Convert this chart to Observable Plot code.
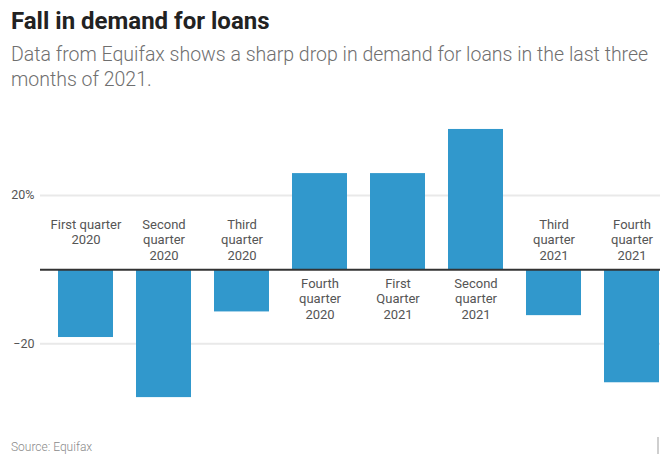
<!DOCTYPE html>
<html>
<head>
<meta charset="utf-8">
<script src="https://cdn.jsdelivr.net/npm/d3@7"></script>
<script src="https://cdn.jsdelivr.net/npm/@observablehq/plot@0.6"></script>
<style>
  html, body { margin: 0; padding: 0; background: #fff; }
  body { width: 660px; height: 457px; overflow: hidden; position: relative; font-family: Roboto, sans-serif; }
  #title { position: absolute; left: 11px; top: 6px; font-size: 24px; font-weight: 700; color: #222; line-height: 30px; white-space: nowrap; }
  #subtitle { position: absolute; left: 11px; top: 42px; font-size: 19.5px; font-weight: 300; color: #6f6f6f; line-height: 25px; width: 645px; }
  #chart { position: absolute; left: 0; top: 110px; }
  #source { position: absolute; left: 11px; top: 440px; font-size: 12px; color: #8a8a8a; font-weight: 300; }
  #mark { position: absolute; left: 657px; top: 437px; width: 2px; height: 17px; background: #cfcfcf; }
</style>
</head>
<body>
<div id="title">Fall in demand for loans</div>
<div id="subtitle">Data from Equifax shows a sharp drop in demand for loans in the last three months of 2021.</div>
<div id="chart"></div>
<div id="source">Source: Equifax</div>
<div id="mark"></div>
<script>
const categories = [
  "First quarter 2020", "Second quarter 2020", "Third quarter 2020", "Fourth quarter 2020",
  "First Quarter 2021", "Second quarter 2021", "Third quarter 2021", "Fourth quarter 2021"
];
const labels = [
  "First quarter\n2020", "Second\nquarter\n2020", "Third\nquarter\n2020", "Fourth\nquarter\n2020",
  "First\nQuarter\n2021", "Second\nquarter\n2021", "Third\nquarter\n2021", "Fourth\nquarter\n2021"
];
const values = [-18.3, -34.5, -11.4, 25.9, 25.9, 37.8, -12.4, -30.5];
const yTicks = [-20, 20];
const yTickLabels = ["\u221220", "20%"];

const data = categories.map((c, i) => ({cat: c, label: labels[i], value: values[i]}));

const chart = Plot.plot({
  width: 660,
  height: 310,
  marginLeft: 40,
  marginRight: 0,
  marginTop: 0,
  marginBottom: 0,
  style: {fontFamily: "Roboto, sans-serif", fontSize: "13px", background: "transparent", overflow: "visible"},
  x: {domain: categories, range: [57, 661], paddingInner: 0.29, paddingOuter: 0, axis: null},
  y: {domain: [-40, 40], range: [307.5, 10.8], axis: null},
  marks: [
    Plot.ruleY(yTicks, {stroke: "#e9e9e9", strokeWidth: 2}),
    Plot.axisY(yTicks, {
      tickSize: 0, tickPadding: 6, fontSize: 12.5, color: "#555", label: null,
      tickFormat: d => yTickLabels[yTicks.indexOf(d)]
    }),
    Plot.barY(data, {x: "cat", y: "value", fill: "#3198cc"}),
    Plot.ruleY([0], {stroke: "#333", strokeWidth: 2}),
    Plot.text(data.filter(d => d.value < 0), {
      x: "cat", y: () => 0, text: "label", lineAnchor: "top", dy: -52,
      lineHeight: 1.2, fill: "#555", fontSize: 13
    }),
    Plot.text(data.filter(d => d.value >= 0), {
      x: "cat", y: () => 0, text: "label", lineAnchor: "top", dy: 7,
      lineHeight: 1.2, fill: "#555", fontSize: 13
    })
  ]
});
document.getElementById("chart").appendChild(chart);
</script>
</body>
</html>
